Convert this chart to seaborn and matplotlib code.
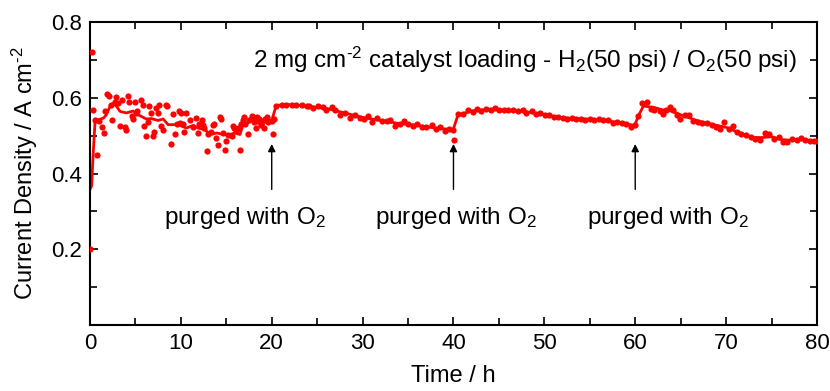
import matplotlib
matplotlib.use("Agg")
import matplotlib.pyplot as plt
import pandas as pd
import seaborn as sns
from matplotlib.ticker import MultipleLocator

# measured points (time in h, current density in A cm-2)
time_h = [
    0.0, 0.18, 0.3, 0.5, 0.8, 0.95, 1.3, 1.5, 1.7, 1.9, 2.05, 2.3, 2.4, 2.7, 2.85,
    3.05, 3.35, 3.5, 3.8, 3.95, 4.15, 4.3, 4.6, 4.7, 4.9, 5.05, 5.2, 5.6, 5.8, 5.95,
    6.15, 6.35, 6.5, 6.7, 6.9, 7.05, 7.3, 7.45, 7.6, 7.8, 8.0, 8.35, 8.45, 8.9, 9.15,
    9.4, 9.6, 9.8, 9.9, 10.0, 10.2, 10.4, 10.6, 11.0, 11.35, 11.7, 11.9, 12.0, 12.3,
    12.45, 12.6, 12.85, 13.0, 13.3, 13.55, 13.7, 13.9, 14.1, 14.3, 14.4, 14.65, 14.85,
    15.0, 15.2, 15.6, 15.75, 15.9, 16.1, 16.3, 16.5, 16.6, 16.85, 17.0, 17.1, 17.4,
    17.5, 17.8, 17.95, 18.1, 18.3, 18.4, 18.6, 18.8, 18.9, 19.1, 19.3, 19.45, 19.6,
    19.98, 20.1,
    20.2, 20.5, 21.1, 21.6, 22.2, 22.7, 23.3, 23.85, 24.1, 24.55, 25.1, 25.6, 26.0,
    26.6, 27.0, 27.5, 28.05, 28.6, 29.15, 29.7, 30.1, 30.55, 31.0, 31.55, 32.1, 32.65,
    33.0, 33.55, 34.1, 34.6, 35.0, 35.55, 36.0, 36.55, 37.0, 37.6, 38.05, 38.5, 39.05,
    39.5, 39.97, 40.05,
    40.5, 41.05, 41.6, 42.1, 42.6, 43.05, 43.55, 44.1, 44.55, 45.0, 45.55, 46.0, 46.6,
    47.1, 47.6, 48.0, 48.6, 49.05, 49.5, 50.1, 50.5, 51.05, 51.5, 52.1, 52.5, 53.05,
    53.5, 54.0, 54.5, 55.0, 55.5, 56.0, 56.5, 57.0, 57.5, 58.05, 58.5, 58.95, 59.5,
    59.95,
    60.3, 60.75, 61.25, 61.7, 62.1, 62.7, 63.05, 63.4, 63.8, 64.15, 64.55, 64.9, 65.45,
    65.9, 66.35, 66.9, 67.4, 67.9, 68.4, 68.85, 69.3, 69.8, 70.3, 70.75, 71.2, 71.65,
    72.2, 72.7, 73.15, 73.7, 74.25, 74.7, 75.25, 75.8, 76.3, 76.7, 77.25, 77.75, 78.2,
    78.7, 79.2, 79.7, 79.95,
]
current = [
    0.20, 0.72, 0.568, 0.54, 0.45, 0.538, 0.522, 0.507, 0.564, 0.61, 0.605, 0.58, 0.54,
    0.588, 0.603, 0.587, 0.525, 0.593, 0.523, 0.514, 0.605, 0.59, 0.553, 0.545, 0.588,
    0.56, 0.565, 0.593, 0.58, 0.525, 0.498, 0.536, 0.577, 0.56, 0.498, 0.509, 0.573,
    0.56, 0.58, 0.525, 0.516, 0.582, 0.578, 0.479, 0.557, 0.504, 0.53, 0.564, 0.534,
    0.56, 0.53, 0.509, 0.561, 0.542, 0.523, 0.546, 0.507, 0.53, 0.542, 0.529, 0.52,
    0.459, 0.503, 0.51, 0.529, 0.532, 0.494, 0.476, 0.548, 0.545, 0.507, 0.463, 0.485,
    0.502, 0.498, 0.525, 0.52, 0.515, 0.52, 0.463, 0.53, 0.542, 0.548, 0.532, 0.503,
    0.542, 0.551, 0.55, 0.535, 0.52, 0.548, 0.545, 0.527, 0.537, 0.52, 0.544, 0.548,
    0.535, 0.538, 0.503,
    0.545, 0.579, 0.58, 0.58, 0.582, 0.581, 0.58, 0.578, 0.577, 0.573, 0.577, 0.576,
    0.568, 0.575, 0.567, 0.555, 0.561, 0.546, 0.555, 0.546, 0.543, 0.553, 0.536, 0.546,
    0.538, 0.538, 0.542, 0.526, 0.53, 0.539, 0.53, 0.526, 0.53, 0.522, 0.522, 0.527,
    0.518, 0.524, 0.511, 0.518, 0.516, 0.488,
    0.556, 0.558, 0.568, 0.562, 0.571, 0.565, 0.571, 0.569, 0.573, 0.567, 0.568, 0.568,
    0.567, 0.564, 0.568, 0.56, 0.564, 0.558, 0.561, 0.555, 0.555, 0.549, 0.548, 0.546,
    0.543, 0.546, 0.543, 0.545, 0.541, 0.545, 0.54, 0.545, 0.54, 0.542, 0.533, 0.535,
    0.533, 0.531, 0.523, 0.527,
    0.551, 0.586, 0.59, 0.57, 0.569, 0.564, 0.558, 0.569, 0.575, 0.569, 0.555, 0.544,
    0.555, 0.555, 0.538, 0.536, 0.533, 0.533, 0.529, 0.524, 0.518, 0.535, 0.518, 0.525,
    0.51, 0.505, 0.501, 0.497, 0.492, 0.489, 0.507, 0.504, 0.492, 0.497, 0.483, 0.484,
    0.492, 0.489, 0.494, 0.489, 0.487, 0.485, 0.486,
]

# smoothed trend line
line_time = [
    0.0, 0.18, 0.36, 0.55, 0.9, 1.47, 1.8, 2.2, 2.57, 2.9, 3.3, 4.0, 4.75, 5.3, 6.2,
    6.75, 7.5, 8.05, 8.6, 9.35, 9.9, 10.6, 11.35, 11.9, 12.65, 13.2, 13.95, 14.7, 15.4,
    15.95, 16.5, 16.85, 17.2, 17.95, 18.5, 19.05, 19.6, 19.98, 20.5,
    22.0, 24.0, 26.0, 28.0, 30.0, 32.0, 34.0, 36.0, 38.0, 39.97,
    40.5, 41.0, 42.0, 44.0, 46.0, 48.0, 50.0, 52.0, 54.0, 56.0, 58.0, 59.95,
    60.3, 60.9, 62.0, 63.0, 64.0, 65.0, 67.0, 69.0, 70.0, 71.0, 72.0, 73.0, 74.0, 75.0,
    76.0, 77.0, 78.0, 79.0, 80.0,
]
line_current = [
    0.358, 0.367, 0.455, 0.533, 0.542, 0.546, 0.555, 0.577, 0.586, 0.578, 0.564, 0.56,
    0.565, 0.555, 0.544, 0.545, 0.54, 0.544, 0.529, 0.529, 0.527, 0.52, 0.527, 0.52,
    0.516, 0.503, 0.507, 0.503, 0.503, 0.507, 0.503, 0.529, 0.532, 0.542, 0.532, 0.542,
    0.545, 0.538, 0.58,
    0.582, 0.577, 0.572, 0.56, 0.548, 0.54, 0.532, 0.527, 0.52, 0.516,
    0.555, 0.558, 0.565, 0.57, 0.567, 0.563, 0.556, 0.547, 0.544, 0.542, 0.535, 0.527,
    0.55, 0.578, 0.575, 0.568, 0.565, 0.555, 0.538, 0.527, 0.522, 0.512, 0.503, 0.495,
    0.495, 0.497, 0.49, 0.488, 0.49, 0.488, 0.486,
]

purge_times = [20, 40, 60]
purge_label_x = [17.1, 40.3, 63.6]

points = pd.DataFrame({"Time": time_h, "Current": current})
trend = pd.DataFrame({"Time": line_time, "Current": line_current})

sns.set_style("ticks")
plt.rcParams["font.family"] = ["Liberation Sans", "DejaVu Sans"]
plt.rcParams["mathtext.default"] = "regular"
plt.rcParams["text.color"] = "black"
plt.rcParams["axes.labelcolor"] = "black"

fig = plt.figure(figsize=(8.3, 3.91), dpi=100)
ax = fig.add_axes([0.1084, 0.1688, 0.8759, 0.7749])

sns.lineplot(data=trend, x="Time", y="Current", ax=ax, color="#ff0000",
             linewidth=2.0, sort=False, estimator=None)
sns.scatterplot(data=points, x="Time", y="Current", ax=ax, color="#ff0000",
                s=20, linewidth=0, zorder=3)

for t, lx in zip(purge_times, purge_label_x):
    ax.annotate("", xy=(t, 0.478), xytext=(t, 0.358),
                arrowprops=dict(arrowstyle="-|>", color="black", lw=1.0,
                                mutation_scale=11, shrinkA=0, shrinkB=0))
    ax.text(lx, 0.283, "purged with O$_2$", ha="center", va="center", fontsize=17.5)

ax.text(77.8, 0.70, "2 mg cm$^{\u2010 2}$ catalyst loading - H$_2$(50 psi) / O$_2$(50 psi)",
        ha="right", va="center", fontsize=17.5)

ax.set_xlim(0, 80)
ax.set_ylim(0, 0.8)
ax.xaxis.set_major_locator(MultipleLocator(10))
ax.xaxis.set_minor_locator(MultipleLocator(5))
ax.yaxis.set_minor_locator(MultipleLocator(0.1))
ax.set_yticks([0.2, 0.4, 0.6, 0.8])
ax.set_yticklabels(["0.2", "0.4", "0.6", "0.8"])
ax.tick_params(which="both", direction="in", top=True, right=True, width=1.2,
               labelsize=16, colors="black")
ax.tick_params(which="major", length=6, pad=6)
ax.tick_params(which="minor", length=5)
for sp in ax.spines.values():
    sp.set_linewidth(1.5)
    sp.set_color("black")

ax.set_xlabel("Time / h", fontsize=17, labelpad=8)
ax.set_ylabel("Current Density / A cm$^{\u2010 2}$", fontsize=17, labelpad=8)

fig.savefig("out.png", dpi=100)
